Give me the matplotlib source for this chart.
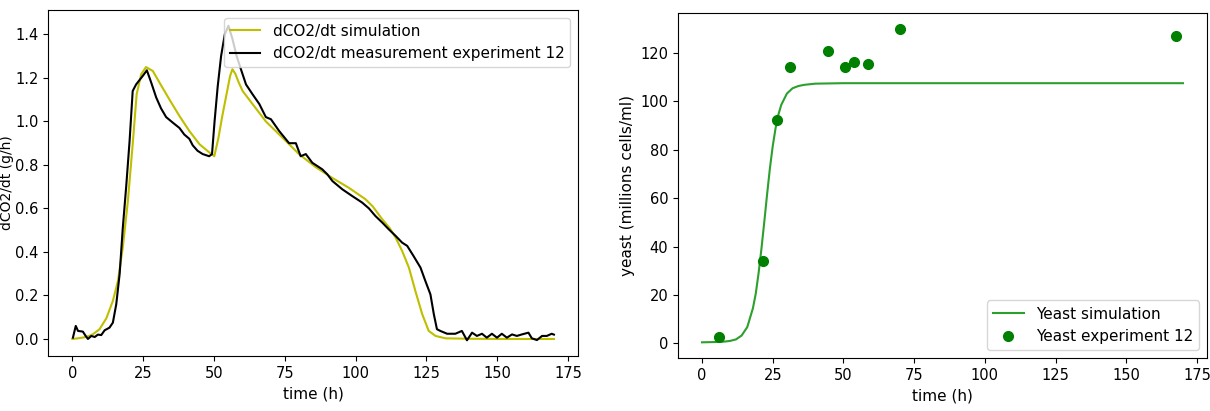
import matplotlib
matplotlib.use('Agg')
import matplotlib.pyplot as plt

t_meas = [0.2, 1.2, 2.0, 3.7, 4.7, 5.5, 6.7, 7.9, 9.0, 10.2, 11.4, 13.1, 14.3, 15.5, 16.7,
          17.8, 19.0, 20.2, 21.3, 22.5, 23.7, 24.9, 26.3, 27.8, 29.6, 31.3, 33.1, 35.4, 37.8,
          39.5, 41.3, 42.5, 44.2, 46.0, 48.3, 49.3, 50.2, 51.3, 52.5, 53.8, 55.1, 56.5, 58.0,
          59.5, 61.3, 63.6, 66.0, 68.3, 70.1, 73.0, 76.5, 78.9, 80.6, 82.4, 84.7, 88.2, 90.0,
          91.8, 95.3, 98.8, 102.3, 104.7, 107.0, 109.4, 111.7, 114.1, 116.4, 118.2, 120.5,
          122.9, 124.6, 126.4, 127.6, 128.7, 129.9, 132.3, 135.2, 137.5, 139.3, 141.1, 142.8,
          144.6, 146.3, 148.1, 149.9, 151.6, 153.4, 155.2, 156.9, 158.7, 161.0, 162.2, 164.0,
          165.8, 167.5, 169.2, 170.0]
co2_meas = [0.006, 0.06, 0.037, 0.034, 0.014, 0.0, 0.014, 0.009, 0.02, 0.018, 0.04, 0.052, 0.075,
            0.16, 0.30, 0.51, 0.70, 0.91, 1.14, 1.17, 1.19, 1.21, 1.235, 1.18, 1.11, 1.06, 1.02,
            0.995, 0.97, 0.94, 0.92, 0.89, 0.865, 0.85, 0.84, 0.85, 1.0, 1.16, 1.30, 1.40, 1.44,
            1.38, 1.30, 1.24, 1.17, 1.125, 1.08, 1.02, 1.01, 0.956, 0.90, 0.90, 0.84, 0.85, 0.81,
            0.78, 0.757, 0.726, 0.688, 0.657, 0.627, 0.60, 0.565, 0.535, 0.504, 0.474, 0.443,
            0.428, 0.38, 0.328, 0.267, 0.205, 0.114, 0.045, 0.037, 0.024, 0.024, 0.037, -0.006,
            0.029, 0.014, 0.024, 0.006, 0.024, 0.006, 0.024, 0.006, 0.021, 0.014, 0.021, 0.029,
            0.003, -0.005, 0.014, 0.014, 0.024, 0.02]

# dCO2/dt simulation
t_sim = [0, 2, 4, 6, 7.3, 9.6, 12.0, 14.3, 16.1, 17.8, 19.6, 21.3, 22.7, 24.3, 26.0, 28.4, 30.7,
         34.3, 37.8, 41.3, 44.9, 48.4, 50.1, 51.5, 53.0, 54.5, 55.7, 56.5, 57.5, 58.7, 60.1, 63.6,
         68.3, 74.2, 80.0, 85.9, 91.8, 97.6, 103.5, 106.0, 109.4, 112.0, 114.1, 116.4, 118.8,
         121.1, 123.5, 125.8, 128.2, 131.7, 140, 150, 160, 170]
co2_sim = [0.0, 0.003, 0.007, 0.014, 0.022, 0.045, 0.095, 0.175, 0.267, 0.42, 0.634, 0.895, 1.125,
           1.217, 1.25, 1.232, 1.18, 1.10, 1.025, 0.956, 0.895, 0.857, 0.84, 0.92, 1.03, 1.13,
           1.21, 1.24, 1.22, 1.18, 1.14, 1.08, 1.0, 0.925, 0.85, 0.79, 0.74, 0.695, 0.642, 0.61,
           0.55, 0.51, 0.466, 0.405, 0.328, 0.22, 0.114, 0.037, 0.014, 0.003, 0.001, 0.0, 0.0, 0.0]

# yeast simulation
t_yeast_sim = [0, 4, 8, 10, 12, 14, 16, 18, 19, 20, 21, 22, 23, 24, 25, 26, 27, 28, 30, 32, 34,
               36, 40, 50, 170]
yeast_sim = [0.4, 0.5, 0.7, 1.0, 1.6, 3.2, 6.7, 14.5, 20.5, 29, 39, 50, 61.5, 72.3, 81.5, 88.9,
             94.5, 98.5, 103.2, 105.4, 106.3, 106.8, 107.3, 107.5, 107.5]

# yeast counts, experiment 12
t_yeast_exp = [6.1, 21.6, 26.6, 31.0, 44.4, 50.4, 53.9, 58.8, 70.0, 167.4]
yeast_exp = [2.8, 33.9, 92.3, 114.1, 120.8, 114.1, 116.1, 115.5, 129.9, 127.2]

plt.rcParams['font.size'] = 11

fig = plt.figure(figsize=(12.1, 4.11), dpi=100)
ax = fig.add_axes([0.0399, 0.1338, 0.4378, 0.8419])
ax2 = fig.add_axes([0.5603, 0.1290, 0.4372, 0.8386])

ax.plot(t_sim, co2_sim, color='y', label='dCO2/dt simulation')
ax.plot(t_meas, co2_meas, color='k', label='dCO2/dt measurement experiment 12')
ax.set_xlabel('time (h)')
ax.set_ylabel('dCO2/dt (g/h)', fontsize=10)
ax.yaxis.set_label_coords(-0.064, 0.5)
ax.set_xticks([0, 25, 50, 75, 100, 125, 150, 175])
ax.tick_params(labelsize=10.5)
ax.legend(loc='upper right')

ax2.plot(t_yeast_sim, yeast_sim, color='C2', label='Yeast simulation')
ax2.plot(t_yeast_exp, yeast_exp, 'o', color='g', ms=7, label='Yeast experiment 12')
ax2.set_xlabel('time (h)')
ax2.set_ylabel('yeast (millions cells/ml)')
ax2.set_xticks([0, 25, 50, 75, 100, 125, 150, 175])
ax2.tick_params(labelsize=10.5)
ax2.legend(loc='lower right')

fig.savefig('out.png', dpi=100)
